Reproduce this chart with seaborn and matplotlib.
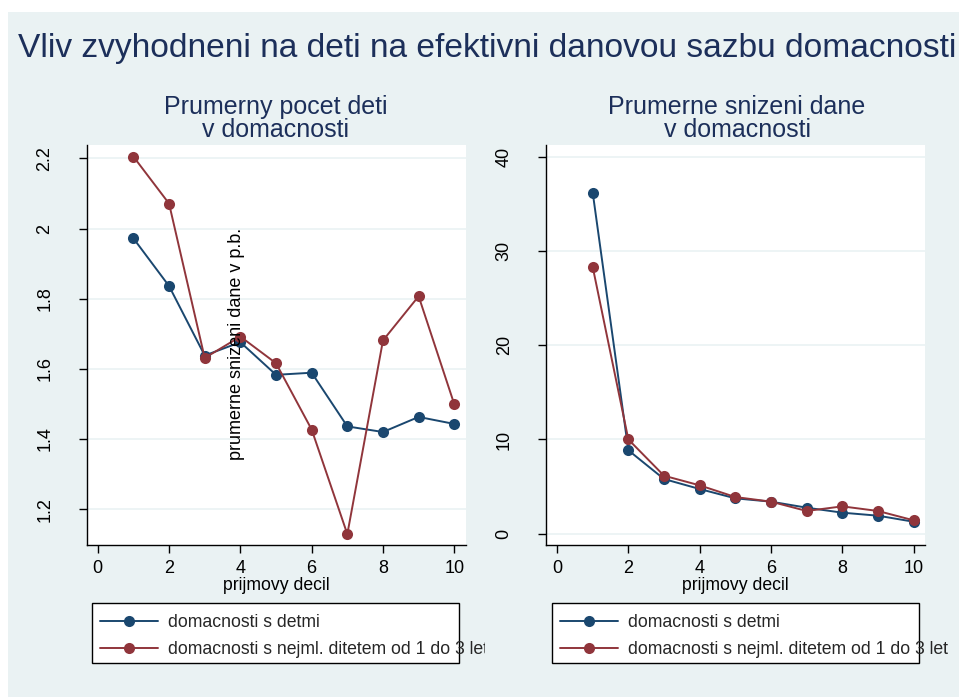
import matplotlib
matplotlib.use("Agg")
import matplotlib.pyplot as plt
import numpy as np
import pandas as pd
import seaborn as sns
from matplotlib.lines import Line2D
from matplotlib.patches import Rectangle
from matplotlib.transforms import Bbox, TransformedBbox

# data
decil = [1, 2, 3, 4, 5, 6, 7, 8, 9, 10]
deti_all = [1.972, 1.836, 1.638, 1.676, 1.583, 1.589, 1.436, 1.420, 1.463, 1.443]
deti_small = [2.205, 2.071, 1.631, 1.692, 1.616, 1.427, 1.129, 1.681, 1.807, 1.499]
dane_all = [36.2, 8.85, 5.8, 4.74, 3.75, 3.4, 2.76, 2.23, 1.91, 1.27]
dane_small = [28.3, 10.0, 6.15, 5.13, 3.89, 3.4, 2.41, 2.9, 2.41, 1.42]

series = ["domacnosti s detmi", "domacnosti s nejml. ditetem od 1 do 3 let"]
colors = ["#1a476f", "#90353b"]
bg = "#eaf2f3"
navy = "#1c2f5a"

sns.set_theme(style="white")
plt.rcParams["font.family"] = ["Liberation Sans", "DejaVu Sans"]

df_left = pd.DataFrame({"decil": decil * 2, "val": deti_all + deti_small,
                        "grp": [series[0]] * 10 + [series[1]] * 10})
df_right = pd.DataFrame({"decil": decil * 2, "val": dane_all + dane_small,
                         "grp": [series[0]] * 10 + [series[1]] * 10})

W, H = 959, 697
fig = plt.figure(figsize=(W / 100, H / 100), dpi=100)
fig.patch.set_facecolor("white")
fig.patches.append(Rectangle((8 / W, 0), 1 - 8 / W, 1 - 12 / H, transform=fig.transFigure,
                             facecolor=bg, edgecolor="none", zorder=-10))
renderer = fig.canvas.get_renderer()


def fx(px):
    return px / W


def fy(py):
    return 1 - py / H


def size_for_width(t, target_w):
    # scale the font so the text is target_w pixels wide
    for _ in range(5):
        w = t.get_window_extent(renderer=renderer).width
        t.set_fontsize(t.get_fontsize() * target_w / w)
    return t.get_fontsize()


def make_panel(x0, x1, df, ylim, yticks, ylabels, title_lines, title_x, title_w):
    ax = fig.add_axes([fx(x0), fy(545), fx(x1 - x0), fy(145) - fy(545)])
    ax.set_facecolor("white")
    sns.lineplot(data=df, x="decil", y="val", hue="grp", palette=colors, marker="o",
                 markersize=8, markeredgewidth=0, linewidth=1.4, legend=False, ax=ax)
    ax.set_xlim(-0.31, 10.32)
    ax.set_ylim(*ylim)
    ax.set_xticks([0, 2, 4, 6, 8, 10])
    ax.set_yticks(yticks)
    ax.set_yticklabels(ylabels, rotation=90, va="center")
    ax.grid(axis="y", color=bg, linewidth=1.2)
    ax.set_axisbelow(True)
    for s in ["top", "right"]:
        ax.spines[s].set_visible(False)
    for s in ["left", "bottom"]:
        ax.spines[s].set_color("#000000")
        ax.spines[s].set_linewidth(1.0)
    ax.tick_params(axis="both", direction="out", length=6, width=1, color="#000000",
                   labelsize=13, labelcolor="#000000", left=True, bottom=True)
    ax.tick_params(axis="y", pad=18)
    ax.tick_params(axis="x", pad=5)
    ax.set_xlabel("prijmovy decil", fontsize=12.7, labelpad=0, color="#000000")
    ax.set_ylabel("")
    t1 = fig.text(fx(title_x), fy(114.3), title_lines[0], ha="center", va="baseline",
                  fontsize=16, color=navy)
    fs = size_for_width(t1, title_w)
    fig.text(fx(title_x), fy(136.7), title_lines[1], ha="center", va="baseline",
             fontsize=fs, color=navy)
    return ax


ax1 = make_panel(86.7, 465.7, df_left, (1.098, 2.238), [1.2, 1.4, 1.6, 1.8, 2.0, 2.2],
                 ["1.2", "1.4", "1.6", "1.8", "2", "2.2"],
                 ["Prumerny pocet deti", "v domacnosti"], 276, 224)
ax2 = make_panel(546, 925, df_right, (-1.2, 41.24), [0, 10, 20, 30, 40],
                 ["0", "10", "20", "30", "40"],
                 ["Prumerne snizeni dane", "v domacnosti"], 737, 258)

# misplaced y title as in the reference
fig.text(fx(236.5), fy(344), "prumerne snizeni dane v p.b.", rotation=90,
         ha="center", va="center", fontsize=13, color="#000000")

main = fig.text(fx(18), fy(57.3), "Vliv zvyhodneni na deti na efektivni danovou sazbu domacnosti",
                ha="left", va="baseline", fontsize=23, color=navy)
size_for_width(main, 937)

# legends: box drawn separately, text may run past it like in the reference
handles = [Line2D([], [], color=c, marker="o", markersize=8, markeredgewidth=0, linewidth=1.4)
           for c in colors]
for bx0, bx1, clip_right in [(92, 459, 485), (552, 919, 959)]:
    fig.patches.append(Rectangle((fx(bx0), fy(663)), fx(bx1 - bx0), fy(603) - fy(663),
                                 transform=fig.transFigure, facecolor="white",
                                 edgecolor="#000000", linewidth=1.0, zorder=1))
    leg = fig.legend(handles, series, loc="center left",
                     bbox_to_anchor=(fx(bx0 + 8), fy(636)), frameon=False, fontsize=12.7,
                     handlelength=3.3, handletextpad=0.55, labelspacing=0.6,
                     borderpad=0, borderaxespad=0)
    leg.set_zorder(2)
    clip = TransformedBbox(Bbox([[0, 0], [fx(clip_right), 1]]), fig.transFigure)
    for t in leg.get_texts():
        t.set_clip_box(clip)
        t.set_clip_on(True)

fig.savefig("out.png", dpi=100, facecolor=fig.get_facecolor())
